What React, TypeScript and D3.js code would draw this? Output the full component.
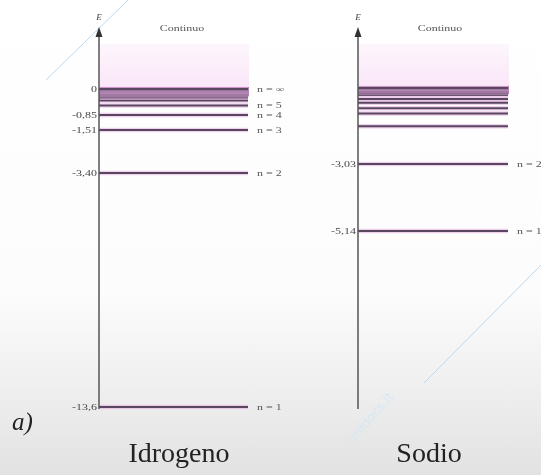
import React from "react";
import * as d3 from "d3";

// ---- data ----
const hydrogenTickValues = [0, -0.85, -1.51, -3.4, -13.6];
const hydrogenTickLabels = ["0", "-0,85", "-1,51", "-3,40", "-13,6"];
const hydrogenLevels = [-13.6, -3.4, -1.51, -0.85, -0.54, -0.38, -0.28, -0.21, -0.17, -0.14, -0.11, -0.09, -0.06, -0.03, 0];
const hydrogenLevelLabels = [
  { value: 0, label: "n = ∞" },
  { value: -0.54, label: "n = 5" },
  { value: -0.85, label: "n = 4" },
  { value: -1.51, label: "n = 3" },
  { value: -3.4, label: "n = 2" },
  { value: -13.6, label: "n = 1" },
];
const sodiumTickValues = [-3.03, -5.14];
const sodiumTickLabels = ["-3,03", "-5,14"];
const sodiumLevels = [-5.14, -3.03, -1.52, -1.02, -0.81, -0.59, -0.44, -0.28, -0.2, -0.14, -0.1, -0.06, -0.03, 0];
const sodiumLevelLabels = [
  { value: -3.03, label: "n = 2" },
  { value: -5.14, label: "n = 1" },
];
const panelTitles = ["Idrogeno", "Sodio"];
const continuumLabel = "Continuo";

const W = 541;
const H = 475;
const serif = "'Liberation Serif', 'DejaVu Serif', serif";

type Panel = {
  axisX: number;
  lineEnd: number;
  levels: number[];
  ticks: number[];
  tickLabels: string[];
  levelLabels: { value: number; label: string }[];
  y: d3.ScaleLinear<number, number>;
  title: string;
  titleX: number;
  contX: number;
};

const yH = d3.scaleLinear().domain([-13.6, -3.4, -1.51, -0.85, 0]).range([407, 173, 130, 115, 89]);
const yNa = d3.scaleLinear().domain([-5.14, -3.03, 0]).range([231, 164, 88]);

const panels: Panel[] = [
  {
    axisX: 99, lineEnd: 248, levels: hydrogenLevels, ticks: hydrogenTickValues,
    tickLabels: hydrogenTickLabels, levelLabels: hydrogenLevelLabels, y: yH,
    title: panelTitles[0], titleX: 179, contX: 182,
  },
  {
    axisX: 358, lineEnd: 508, levels: sodiumLevels, ticks: sodiumTickValues,
    tickLabels: sodiumTickLabels, levelLabels: sodiumLevelLabels, y: yNa,
    title: panelTitles[1], titleX: 429, contX: 440,
  },
];

const SX = 1.5; // horizontal stretch of the small print

function Small({ x, y, anchor, children, fill = "#444", size = 8 }: any) {
  return (
    <text transform={`translate(${x},${y}) scale(${SX},1)`} fontFamily={serif} fontSize={size} fill={fill} textAnchor={anchor}>
      {children}
    </text>
  );
}

function PanelView({ p }: { p: Panel }) {
  const top = p.y(0);
  const bandBottom = p.y(-0.21);
  return (
    <g>
      {/* continuum */}
      <rect x={p.axisX + 1} y={44} width={p.lineEnd - p.axisX} height={top - 44} fill="url(#contGrad)" />
      <rect x={p.axisX + 1} y={top - 2} width={p.lineEnd - p.axisX} height={bandBottom - top + 3} fill="#9c5a96" opacity={0.75} />
      {p.levels.map((v, i) => (
        <g key={i}>
          <line x1={p.axisX} x2={p.lineEnd} y1={p.y(v)} y2={p.y(v)} stroke="#e2a6de" strokeWidth={4.5} opacity={0.5} />
          <line x1={p.axisX} x2={p.lineEnd} y1={p.y(v)} y2={p.y(v)} stroke="#58475e" strokeWidth={2} />
        </g>
      ))}
      {/* axis */}
      <line x1={p.axisX} x2={p.axisX} y1={34} y2={409} stroke="#555" strokeWidth={1.5} />
      <path d={`M${p.axisX - 3.5},${37} L${p.axisX},${27} L${p.axisX + 3.5},${37} Z`} fill="#333" />
      <text x={p.axisX} y={20} fontFamily={serif} fontStyle="italic" fontSize={9} fill="#444" textAnchor="middle">E</text>
      <Small x={p.contX} y={31} anchor="middle" fill="#555">{continuumLabel}</Small>
      {p.ticks.map((v, i) => (
        <Small key={i} x={p.axisX - 2} y={p.y(v) + 2.8} anchor="end">{p.tickLabels[i]}</Small>
      ))}
      {p.levelLabels.map((d, i) => (
        <Small key={i} x={p.lineEnd + 9} y={p.y(d.value) + 2.8} anchor="start" fill="#555">{d.label}</Small>
      ))}
      <text x={p.titleX} y={462} fontFamily={serif} fontSize={28} fill="#222" textAnchor="middle">{p.title}</text>
    </g>
  );
}

export default function App() {
  return (
    <svg width={W} height={H} viewBox={`0 0 ${W} ${H}`} style={{ position: "absolute", left: 0, top: 0 }}>
      <defs>
        <linearGradient id="bgGrad" x1="0" y1="0" x2="0" y2="1">
          <stop offset="0" stopColor="#ffffff" />
          <stop offset="0.62" stopColor="#fcfcfc" />
          <stop offset="0.8" stopColor="#f0f0f0" />
          <stop offset="1" stopColor="#e2e2e2" />
        </linearGradient>
        <linearGradient id="contGrad" x1="0" y1="0" x2="0" y2="1">
          <stop offset="0" stopColor="#fdf6fc" />
          <stop offset="1" stopColor="#fae6f8" />
        </linearGradient>
        <filter id="soft"><feGaussianBlur stdDeviation="0.45" /></filter>
      </defs>
      <rect x={0} y={0} width={W} height={H} fill="url(#bgGrad)" />
      {/* watermark */}
      <g stroke="#bcd8ee" strokeWidth={1} fill="none">
        <line x1={46} y1={80} x2={128} y2={0} />
        <line x1={424} y1={383} x2={541} y2={265} />
      </g>
      <text x={0} y={0} transform="translate(352,444) rotate(-48)" fontFamily="'DejaVu Sans', sans-serif" fontSize={13} fill="#d8e8f4">unidocs.it</text>
      <g filter="url(#soft)">
        {panels.map((p, i) => <PanelView key={i} p={p} />)}
      </g>
      <text x={12} y={430} fontFamily={serif} fontStyle="italic" fontSize={25} fill="#222" filter="url(#soft)">a)</text>
    </svg>
  );
}
